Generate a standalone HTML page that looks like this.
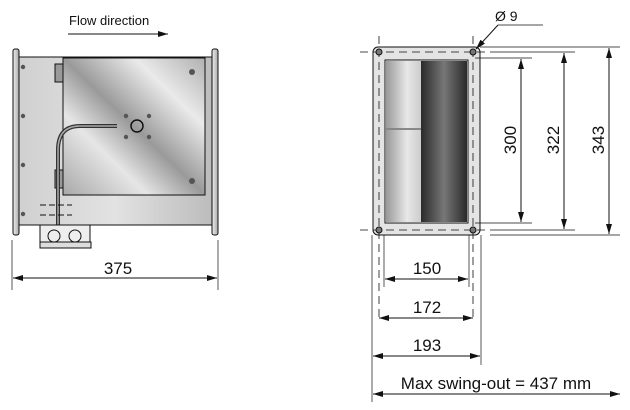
<!DOCTYPE html>
<html><head><meta charset="utf-8"><style>
html,body{margin:0;padding:0;background:#fff;}
svg{display:block;font-family:"Liberation Sans",sans-serif;}
</style></head><body>
<svg width="630" height="410" viewBox="0 0 630 410" xmlns="http://www.w3.org/2000/svg">
<defs>
<marker id="a" viewBox="0 0 10 6" refX="10" refY="3" markerWidth="10" markerHeight="6" orient="auto-start-reverse" markerUnits="userSpaceOnUse"><path d="M0,0 L10,3 L0,6z" fill="#111"/></marker>
<linearGradient id="body" x1="0" x2="1"><stop offset="0" stop-color="#d0d0d0"/><stop offset="0.5" stop-color="#e2e2e2"/><stop offset="1" stop-color="#bcbcbc"/></linearGradient>
<linearGradient id="door" x1="0" y1="1" x2="1" y2="0"><stop offset="0" stop-color="#a8a8a8"/><stop offset="0.3" stop-color="#e6e6e6"/><stop offset="0.5" stop-color="#9a9a9a"/><stop offset="0.75" stop-color="#eaeaea"/><stop offset="1" stop-color="#b0b0b0"/></linearGradient>
<linearGradient id="fl" x1="0" x2="1"><stop offset="0" stop-color="#eee"/><stop offset="1" stop-color="#aaa"/></linearGradient>
<linearGradient id="cyl" x1="0" x2="1"><stop offset="0" stop-color="#2a2a2a"/><stop offset="0.5" stop-color="#777"/><stop offset="1" stop-color="#2a2a2a"/></linearGradient>
<linearGradient id="blk" x1="0" x2="1"><stop offset="0" stop-color="#999"/><stop offset="0.6" stop-color="#e8e8e8"/><stop offset="1" stop-color="#ccc"/></linearGradient>
</defs>
<g stroke="#111" stroke-width="1" fill="none">
<text x="69" y="25" font-size="13" fill="#111" stroke="none">Flow direction</text>
<line x1="68" y1="34" x2="168" y2="34" marker-end="url(#a)"/>
<rect x="19" y="57" width="193" height="168" fill="url(#body)"/>
<rect x="13" y="49" width="6" height="186" rx="2" fill="url(#fl)"/>
<rect x="212" y="49" width="6" height="186" rx="2" fill="url(#fl)"/>
<rect x="63" y="58" width="142" height="137" fill="url(#door)"/>
<g fill="#555" stroke="none">
<circle cx="23" cy="67" r="2.2"/><circle cx="23" cy="116" r="2.2"/><circle cx="23" cy="165" r="2.2"/><circle cx="23" cy="214" r="2.2"/>
<circle cx="192" cy="72" r="3"/><circle cx="192" cy="181" r="3"/>
<circle cx="126" cy="116" r="2.2"/><circle cx="149" cy="116" r="2.2"/><circle cx="126" cy="137" r="2.2"/><circle cx="149" cy="137" r="2.2"/>
</g>
<circle cx="137" cy="126" r="6" stroke-width="1.5"/>
<rect x="55" y="64" width="8" height="18" fill="#999"/>
<rect x="55" y="170" width="8" height="18" fill="#999"/>
<path d="M58 225 V150 Q58 126 80 126 H117" stroke="#333" stroke-width="4"/>
<path d="M58 225 V150 Q58 126 80 126 H117" stroke="#aaa" stroke-width="1.5"/>
<g stroke-dasharray="6,3"><line x1="40" y1="205" x2="72" y2="205"/><line x1="40" y1="215" x2="72" y2="215"/></g>
<rect x="40" y="225" width="50" height="17" fill="#eee"/>
<rect x="40" y="242" width="51" height="6" fill="#ddd"/>
<circle cx="54" cy="236" r="6"/><circle cx="75" cy="236" r="6"/>
<line x1="12" y1="240" x2="12" y2="290" stroke-width="0.7"/>
<line x1="218" y1="240" x2="218" y2="290" stroke-width="0.7"/>
<line x1="13" y1="278" x2="217" y2="278" marker-start="url(#a)" marker-end="url(#a)"/>
<text x="118" y="274" font-size="17" text-anchor="middle" fill="#111" stroke="none">375</text>
<!-- Right view -->
<rect x="373" y="47" width="107" height="188" rx="5" fill="#e4e4e4"/>
<g stroke-dasharray="8,5" stroke-width="0.8">
<line x1="360" y1="52" x2="495" y2="52"/><line x1="360" y1="230" x2="495" y2="230"/>
<line x1="379" y1="36" x2="379" y2="320"/><line x1="473" y1="36" x2="473" y2="320"/>
</g>
<rect x="385" y="60" width="83" height="163" fill="#fff"/>
<rect x="386" y="61" width="35" height="67" fill="url(#blk)" stroke="none"/>
<rect x="386" y="130" width="35" height="92" fill="url(#blk)" stroke="none"/>
<line x1="386" y1="129" x2="421" y2="129"/>
<rect x="421" y="61" width="46" height="161" fill="url(#cyl)" stroke="none"/>
<g fill="#777"><circle cx="379" cy="52" r="3"/><circle cx="473" cy="52" r="3"/><circle cx="379" cy="230" r="3"/><circle cx="473" cy="230" r="3"/></g>
<line x1="543" y1="25" x2="498" y2="25" stroke-width="0.8"/>
<line x1="498" y1="25" x2="476" y2="49" marker-end="url(#a)"/>
<text x="495" y="21" font-size="14" fill="#111" stroke="none">Ø 9</text>
<g stroke-width="0.7">
<line x1="475" y1="58" x2="532" y2="58"/><line x1="475" y1="223" x2="532" y2="223"/>
<line x1="495" y1="52" x2="575" y2="52"/><line x1="495" y1="230" x2="575" y2="230"/>
<line x1="480" y1="47" x2="620" y2="47"/><line x1="490" y1="235" x2="620" y2="235"/>
</g>
<line x1="521" y1="59" x2="521" y2="222" marker-start="url(#a)" marker-end="url(#a)"/>
<line x1="564" y1="53" x2="564" y2="229" marker-start="url(#a)" marker-end="url(#a)"/>
<line x1="609" y1="48" x2="609" y2="234" marker-start="url(#a)" marker-end="url(#a)"/>
<g font-size="17" fill="#111" stroke="none" text-anchor="middle">
<text transform="translate(516,140) rotate(-90)">300</text>
<text transform="translate(559,140) rotate(-90)">322</text>
<text transform="translate(604,140) rotate(-90)">343</text>
<text x="427" y="274">150</text>
<text x="427" y="313">172</text>
<text x="427" y="351">193</text>
<text x="496" y="389">Max swing-out =  437 mm</text>
</g>
<g stroke-width="0.7">
<line x1="384" y1="235" x2="384" y2="287"/><line x1="469" y1="235" x2="469" y2="287"/>
<line x1="372" y1="235" x2="372" y2="402"/><line x1="481" y1="235" x2="481" y2="365"/>
</g>
<line x1="385" y1="279" x2="468" y2="279" marker-start="url(#a)" marker-end="url(#a)"/>
<line x1="379" y1="318" x2="473" y2="318" marker-start="url(#a)" marker-end="url(#a)"/>
<line x1="373" y1="356" x2="480" y2="356" marker-start="url(#a)" marker-end="url(#a)"/>
<line x1="373" y1="394" x2="620" y2="394" marker-start="url(#a)" marker-end="url(#a)"/>
</g>
</svg>
</body></html>
